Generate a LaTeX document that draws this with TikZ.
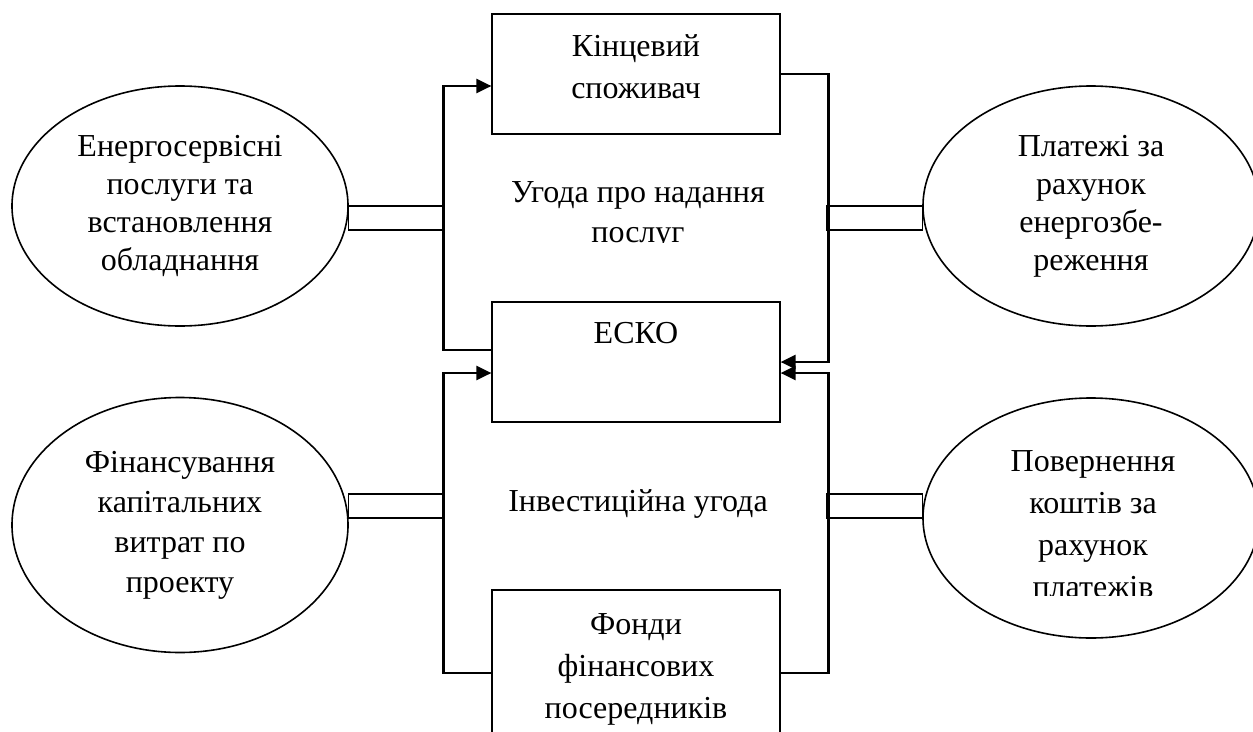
\documentclass[tikz,border=0pt]{standalone}
\usepackage{fontspec}
\setmainfont{Liberation Serif}
\usepackage{tikz}
\usetikzlibrary{shapes}
\usetikzlibrary{arrows.meta}
\tikzset{ org_box/.style = {rectangle, draw, line width=1.2pt, minimum width=288pt, minimum height=120pt, inner sep=0pt} }
\tikzset{ goal_ell/.style = {ellipse, draw, line width=1.6pt, minimum width=336pt, minimum height=240pt, inner sep=0pt, align=center, font=\fontsize{32}{38}\selectfont} }
\tikzset{ box_txt/.style = {align=center, inner sep=0pt, font=\fontsize{32}{42}\selectfont} }
\tikzset{ flow/.style = {line width=2.4pt, -{Triangle[length=15pt,width=14pt]}} }
\tikzset{ rail/.style = {line width=1.2pt} }

\begin{document}
\begin{tikzpicture}[x=1pt,y=-1pt]
            \useasboundingbox (0,0) rectangle (1253,731);
            \node [style=org_box] (spoz) at (636,74) {};
            \node [style=org_box] (esco) at (636,362) {};
            \node [style=org_box, minimum height=166pt] (fond) at (636,673) {};
            \node [style=box_txt] (spoz_t) at (636,67) {Кінцевий\\споживач};
            \node [style=box_txt] (esco_t) at (636,333) {ЕСКО};
            \node [style=box_txt] (fond_t) at (636,669) {Фонди\\фінансових\\посередників};
            \begin{scope}
                \clip (480,150) rectangle (800,242);
                \node [style=box_txt, font=\fontsize{32}{40}\selectfont] (serv_t) at (638,215) {Угода про надання\\послуг};
            \end{scope}
            \node [style=box_txt] (inv_t) at (638,504) {Інвестиційна угода};
            \node [style=goal_ell] (enserv) at (180,206) {Енергосервісні\\послуги та\\встановлення\\обладнання};
            \node [style=goal_ell] (plat) at (1091,206) {Платежі за\\рахунок\\енергозбе-\\реження};
            \node [style=goal_ell, minimum height=255pt, font=\fontsize{32}{40}\selectfont] (fin) at (180,525) {Фінансування\\капітальних\\витрат по\\проекту};
            \node [style=goal_ell] (pov) at (1091,518) {};
            \begin{scope}
                \clip (950,420) rectangle (1240,595);
                \node [style=box_txt] (pov_t) at (1093,524) {Повернення\\коштів за\\рахунок\\платежів};
            \end{scope}
            \draw [style=rail] (enserv.east) rectangle ++(96,24);
            \draw [style=rail] (plat.west) rectangle ++(-96,24);
            \draw [style=rail] ([yshift=31pt]fin.east) rectangle ++(96,24);
            \draw [style=rail] ([yshift=24pt]pov.west) rectangle ++(-96,24);
            \draw [style=flow] ([yshift=12pt]esco.west) -- ++(-48,0) |- ([yshift=-12pt]spoz.west);
            \draw [style=flow] (spoz.east) -- ++(48,0) |- (esco.east);
            \draw [style=flow] (fond.east) -- ++(48,0) |- ([yshift=-11pt]esco.east);
            \draw [style=flow] (fond.west) -- ++(-48,0) |- ([yshift=-11pt]esco.west);
    \end{tikzpicture}
\end{document}
